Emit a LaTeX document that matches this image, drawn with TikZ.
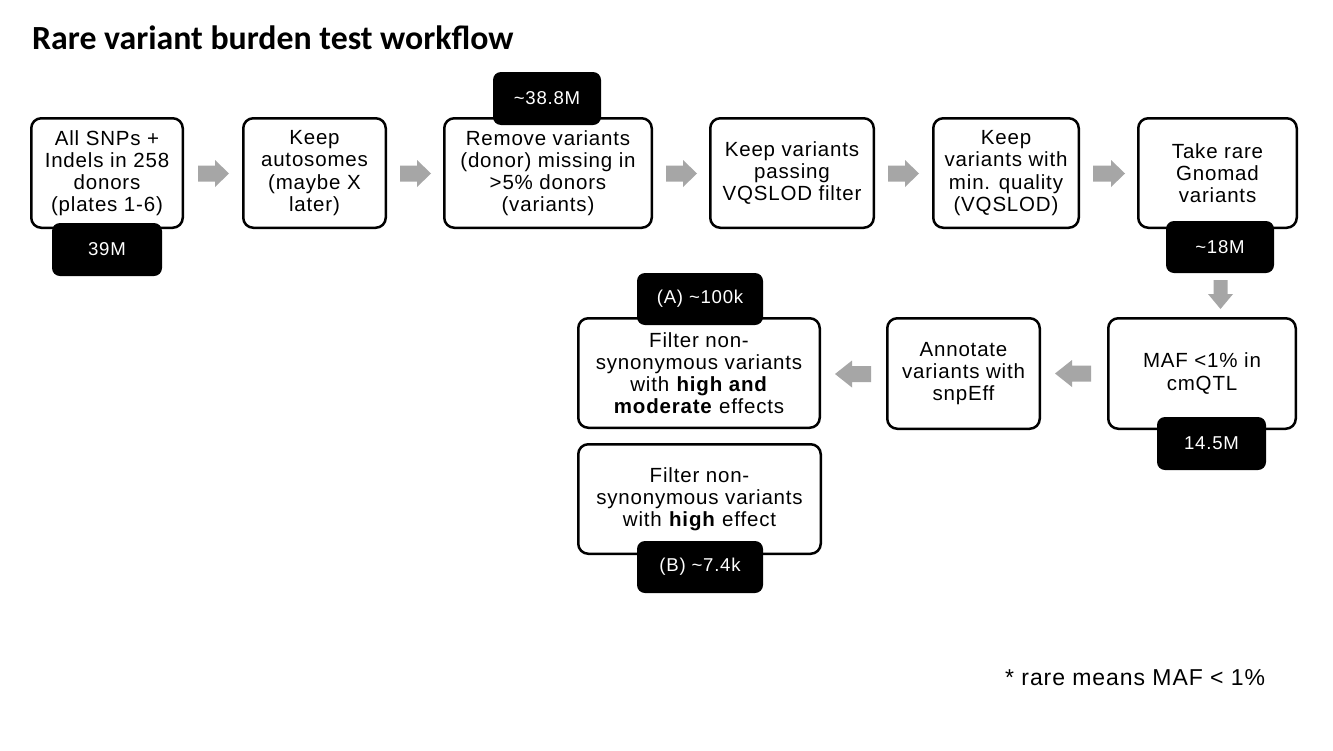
\documentclass[tikz,border=0pt]{standalone}
\usepackage{fontspec}
\setmainfont{Liberation Sans}
\newfontfamily\titlefont{Carlito}
\newfontfamily\bodyfont[LetterSpace=4]{Liberation Sans}
\definecolor{arrowgray}{RGB}{166,166,166}
% x, y, rotation, length, head length, head half width, body half width
\newcommand{\grayarrow}[7]{%
  \fill[arrowgray,shift={(#1,#2)},rotate=#3]
    (-#4/2,-#7) -- (#4/2-#5,-#7) -- (#4/2-#5,-#6) -- (#4/2,0) --
    (#4/2-#5,#6) -- (#4/2-#5,#7) -- (-#4/2,#7) -- cycle;}
\begin{document}
\begin{tikzpicture}[x=1pt,y=-1pt,
  box/.style={draw=black,line width=2.5pt,rounded corners=10pt,fill=white,
    align=center,inner sep=0pt,minimum height=109.5pt,
    font=\bodyfont\fontsize{20.5}{22.2}\selectfont},
  tag/.style={fill=black,text=white,rounded corners=8pt,inner sep=0pt,
    minimum height=53pt,font=\bodyfont\fontsize{18.6}{22}\selectfont}]
\useasboundingbox[fill=white] (0,0) rectangle (1333,750);

\node[anchor=base west,inner sep=0pt,font=\titlefont\bfseries\fontsize{33.8}{40}\selectfont]
  (title) at (32,49) {Rare variant burden test workflow};

% boxes
\node[box,minimum width=151.5pt] (b1) at (107,173) {All SNPs +\\Indels in 258\\donors\\(plates 1-6)};
\node[box,minimum width=142.5pt] (b2) at (314.5,173) {Keep\\autosomes\\(maybe X\\later)};
\node[box,minimum width=207.5pt] (b3) at (548,173) {Remove variants\\(donor) missing in\\>5\% donors\\(variants)};
\node[box,minimum width=163.5pt] (b4) at (792,173) {Keep variants\\passing\\VQSLOD filter};
\node[box,minimum width=145.5pt] (b5) at (1006,173) {Keep\\variants with\\min. quality\\(VQSLOD)};
\node[box,minimum width=158.5pt] (b6) at (1217.5,173) {Take rare\\Gnomad\\variants};
\node[box,minimum width=187.5pt,minimum height=110.5pt] (b7) at (1202,373.5) {MAF <1\% in\\cmQTL};
\node[box,minimum width=152.5pt,minimum height=110.5pt] (b8) at (963.5,373.5) {Annotate\\variants with\\snpEff};
\node[box,minimum width=241.5pt] (b9) at (699,373) {Filter non-\\synonymous variants\\with \textbf{high and}\\\textbf{moderate} effects};
\node[box,minimum width=242.5pt] (b10) at (699.5,499) {Filter non-\\synonymous variants\\with \textbf{high} effect};

% count tags
\node[tag,minimum width=110pt] (t1) at (107,249.5) {39M};
\node[tag,minimum width=108pt] (t3) at (547,98.5) {\textasciitilde 38.8M};
\node[tag,minimum width=108pt,minimum height=52pt] (t6) at (1220,247) {\textasciitilde 18M};
\node[tag,minimum width=109pt] (t7) at (1211.5,443.5) {14.5M};
\node[tag,minimum width=126pt,minimum height=52pt] (tA) at (700,299) {(A) \textasciitilde 100k};
\node[tag,minimum width=126pt,minimum height=52pt] (tB) at (700,567) {(B) \textasciitilde 7.4k};

% block arrows
\grayarrow{213.5}{173.5}{0}{31}{14}{13.5}{8}
\grayarrow{415.5}{173.5}{0}{31}{14}{13.5}{8}
\grayarrow{681.5}{173.5}{0}{31}{14}{13.5}{8}
\grayarrow{903.5}{173.5}{0}{31}{14}{13.5}{8}
\grayarrow{1109}{173.5}{0}{32}{14}{13.5}{8}
\grayarrow{1220.5}{294.5}{-90}{29}{15}{12.5}{7}
\grayarrow{1073}{373.5}{180}{36}{17}{13.5}{8}
\grayarrow{853}{374}{180}{36}{17}{13.5}{8}

\node[anchor=base west,inner sep=0pt,font=\bodyfont\fontsize{23}{27}\selectfont]
  (note) at (1005,685) {* rare means MAF < 1\%};
\end{tikzpicture}
\end{document}
